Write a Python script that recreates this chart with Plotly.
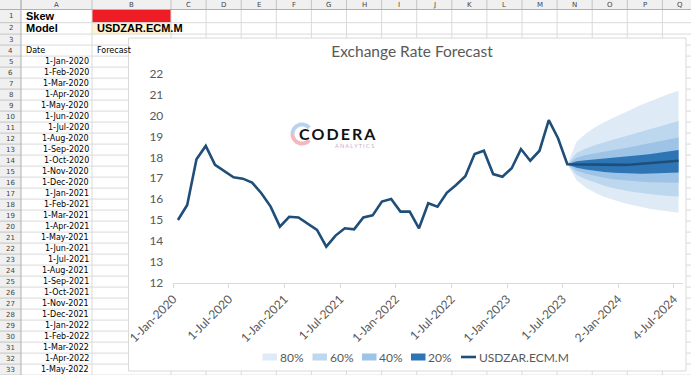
import math
import pandas as pd
import plotly.graph_objects as go

W, H = 691, 375

# ---------------- data ----------------
months = pd.date_range("2020-01-01", "2024-07-01", freq="MS")   # 55 monthly category slots
hist_values = [15.00, 15.72, 17.91, 18.55, 17.64, 17.36, 17.05, 16.98, 16.79, 16.28, 15.64, 14.68,
               15.15, 15.12, 14.80, 14.52, 13.72, 14.25, 14.60, 14.55, 15.12, 15.22, 15.88, 16.00,
               15.40, 15.40, 14.60, 15.80, 15.64, 16.30, 16.68, 17.10, 18.16, 18.32, 17.20, 17.07,
               17.48, 18.40, 17.84, 18.32, 19.79, 18.92, 17.67]
fc_center = [17.67, 17.66, 17.65, 17.64, 17.63, 17.63, 17.64, 17.66, 17.69, 17.72, 17.76, 17.80, 17.84]
fc_u80 = [17.67, 18.75, 19.15, 19.45, 19.70, 19.92, 20.12, 20.32, 20.52, 20.70, 20.88, 21.05, 21.20]
fc_l80 = [17.67, 16.90, 16.55, 16.30, 16.10, 15.95, 15.83, 15.72, 15.62, 15.53, 15.46, 15.40, 15.35]
fc_u60 = [17.67, 18.21, 18.43, 18.60, 18.73, 18.86, 18.99, 19.12, 19.25, 19.37, 19.50, 19.63, 19.75]
fc_l60 = [17.67, 17.16, 16.95, 16.78, 16.64, 16.52, 16.42, 16.35, 16.29, 16.23, 16.19, 16.15, 16.12]
fc_u40 = [17.67, 17.98, 18.11, 18.20, 18.28, 18.35, 18.43, 18.52, 18.60, 18.69, 18.78, 18.87, 18.96]
fc_l40 = [17.67, 17.36, 17.22, 17.11, 17.02, 16.95, 16.90, 16.86, 16.83, 16.81, 16.80, 16.80, 16.79]
fc_u20 = [17.67, 17.81, 17.86, 17.90, 17.92, 17.96, 18.00, 18.05, 18.11, 18.16, 18.23, 18.29, 18.35]
fc_l20 = [17.67, 17.50, 17.42, 17.35, 17.30, 17.26, 17.24, 17.22, 17.22, 17.23, 17.24, 17.25, 17.27]
tick_labels = ["1-Jan-2020", "1-Jul-2020", "1-Jan-2021", "1-Jul-2021", "1-Jan-2022",
               "1-Jul-2022", "1-Jan-2023", "1-Jul-2023", "2-Jan-2024", "4-Jul-2024"]
band_names = ["80%", "60%", "40%", "20%"]
band_colors = ["#deebf7", "#bdd7ee", "#9dc3e6", "#2e75b6"]
series_name = "USDZAR.ECM.M"
line_color = "#1f4e79"
sheet_dates = [f"{d.day}-{d.strftime('%b-%Y')}" for d in months[:29]]

# ---------------- geometry helpers ----------------
def px(x):
    return x / W

def py(y):
    return 1 - y / H

n = len(months)
x_all = list(range(n))
hist_x = x_all[:len(hist_values)]
fc_x = x_all[len(hist_values) - 1:]
tick_step = 6
tickvals = [i - 0.5 for i in range(0, n, tick_step)]

fig = go.Figure()
bands = [(fc_l80, fc_u80), (fc_l60, fc_u60), (fc_l40, fc_u40), (fc_l20, fc_u20)]
for (lo, hi), col, nm in zip(bands, band_colors, band_names):
    fig.add_trace(go.Scatter(x=fc_x, y=lo, mode="lines", line=dict(width=0, color=col),
                             showlegend=False, hoverinfo="skip"))
    fig.add_trace(go.Scatter(x=fc_x, y=hi, mode="lines", line=dict(width=0, color=col),
                             fill="tonexty", fillcolor=col, name=nm, showlegend=False))
fig.add_trace(go.Scatter(x=hist_x + fc_x[1:], y=hist_values + fc_center[1:], mode="lines",
                         line=dict(color=line_color, width=2.6), name=series_name, showlegend=False))

# ---------------- spreadsheet background ----------------
shapes = []
annots = []
grid = "#dadada"
hdr_bg = "#f0f0f0"
hdr_line = "#c4c4c4"
row_h = 11.0
sheet_font = "DejaVu Sans"

col_bounds = [21, 92, 171] + [171 + 35.1 * k for k in range(1, 16)]
col_letters = ["A", "B"] + [chr(ord("C") + k) for k in range(15)]
row_tops = [9.5, 22.7] + [34.1 + row_h * k for k in range(0, 32)]

def rect(x0, y0, x1, y1, fill, line=None, lw=0, layer="below"):
    shapes.append(dict(type="rect", xref="paper", yref="paper", x0=px(x0), x1=px(x1),
                       y0=py(y1), y1=py(y0), fillcolor=fill, layer=layer,
                       line=dict(width=lw, color=line or fill)))

def hline(y, x0, x1, color, w=1, layer="below"):
    shapes.append(dict(type="line", xref="paper", yref="paper", x0=px(x0), x1=px(x1),
                       y0=py(y), y1=py(y), layer=layer, line=dict(color=color, width=w)))

def vline(x, y0, y1, color, w=1, layer="below"):
    shapes.append(dict(type="line", xref="paper", yref="paper", x0=px(x), x1=px(x),
                       y0=py(y0), y1=py(y1), layer=layer, line=dict(color=color, width=w)))

def note(x, y, text, anchor="left", size=9, color="#000", family=sheet_font):
    annots.append(dict(x=px(x), y=py(y), xref="paper", yref="paper", text=text, showarrow=False,
                       xanchor=anchor, yanchor="middle",
                       font=dict(family=family, size=size, color=color)))

rect(0, 0, W, 9.5, hdr_bg)
rect(0, 0, 21, H, hdr_bg)
rect(92, 9.5, 171, 22.7, "#ee1c25")
rect(92, 22.7, 171, 34.1, "#fff2cc")
for y in row_tops[1:]:
    hline(y, 21, W, grid)
    hline(y, 0, 21, hdr_line)
for x in col_bounds[1:]:
    vline(x, 9.5, H, grid)
for x in col_bounds:
    vline(x, 0, 9.5, hdr_line)
hline(9.5, 0, W, "#b0b0b0")
vline(21, 0, H, "#b0b0b0")

for k, letter in enumerate(col_letters):
    cx = (col_bounds[k] + col_bounds[k + 1]) / 2
    note(cx, 5, letter, anchor="center", size=7, color="#444")
row_centers = [16.1, 28.4] + [39.6 + row_h * k for k in range(0, 31)]
for r, yc in enumerate(row_centers, start=1):
    note(10.5, yc, str(r), anchor="center", size=7, color="#444")

note(24, row_centers[0], "<b>Skew</b>", size=11, family="Liberation Sans")
note(24, row_centers[1], "<b>Model</b>", size=11, family="Liberation Sans")
note(95, row_centers[1], f"<b>{series_name}</b>", size=11, family="Liberation Sans")
note(24, row_centers[3], "Date", size=8)
note(95, row_centers[3], "Forecast", size=8)
for k, t in enumerate(sheet_dates):
    note(91, row_centers[4 + k], t, anchor="right", size=8)

# chart box
rect(128.5, 38, 686, 371, "#ffffff", line="#d9d9d9", lw=1)

# ---------------- manual legend ----------------
chart_font = "Lato"
txt_col = "#595959"
leg_y = 357
sw_x = [262.5, 312.5, 362, 411]
for x0, col, nm in zip(sw_x, band_colors, band_names):
    rect(x0, leg_y - 3.5, x0 + 14.5, leg_y + 3.5, col, layer="above")
    note(x0 + 15, leg_y, nm, size=12, color=txt_col, family=chart_font)
hline(leg_y, 461, 476, line_color, w=2.6, layer="above")
note(476.5, leg_y, series_name, size=12, color=txt_col, family=chart_font)

# ---------------- logo ----------------
def arc(cx, cy, r, a0, a1, color, w):
    steps = 24
    pts = []
    for s in range(steps + 1):
        a = math.radians(a0 + (a1 - a0) * s / steps)
        pts.append((px(cx + r * math.cos(a)), py(cy - r * math.sin(a))))
    path = "M " + " L ".join(f"{xx:.5f},{yy:.5f}" for xx, yy in pts)
    shapes.append(dict(type="path", xref="paper", yref="paper", path=path, layer="above",
                       line=dict(color=color, width=w)))

arc(302, 134, 9.5, 40, 180, "#b9d3ee", 4)
arc(302, 134, 9.5, 180, 320, "#f2b8bd", 4)
note(337, 133, "<b>C\u2009O\u2009D\u2009E\u2009R\u2009A</b>", anchor="center", size=16,
     color="#111", family="Lato")
note(354, 145.5, "A N A L Y T I C S", anchor="center", size=5.5, color="#c9a9c9", family="Lato")

fig.update_layout(
    width=W, height=H, margin=dict(l=0, r=0, t=0, b=0, autoexpand=False),
    paper_bgcolor="#ffffff", plot_bgcolor="rgba(0,0,0,0)",
    shapes=shapes, annotations=annots,
    title=dict(text="Exchange Rate Forecast", x=px(412), y=py(52), xanchor="center", yanchor="middle",
               xref="paper", yref="paper", font=dict(family=chart_font, size=15.5, color=txt_col)),
    xaxis=dict(domain=[px(173.3), px(683.2)], range=[-0.5, n - 0.5], tickmode="array",
               tickvals=tickvals, ticktext=tick_labels, tickangle=-45, showgrid=False, zeroline=False,
               showline=True, linecolor="#d9d9d9", linewidth=1, ticks="outside", ticklen=4,
               tickcolor="#d9d9d9", tickfont=dict(family=chart_font, size=12, color=txt_col)),
    yaxis=dict(domain=[py(282.5), py(74)], range=[12, 22], dtick=1, showgrid=False, zeroline=False,
               showline=False, ticks="", ticklabelstandoff=9,
               tickfont=dict(family=chart_font, size=12, color=txt_col)),
    showlegend=False,
)
fig.write_html("out.html", config={"displayModeBar": False},
               post_script="document.body.style.margin='0px';")
